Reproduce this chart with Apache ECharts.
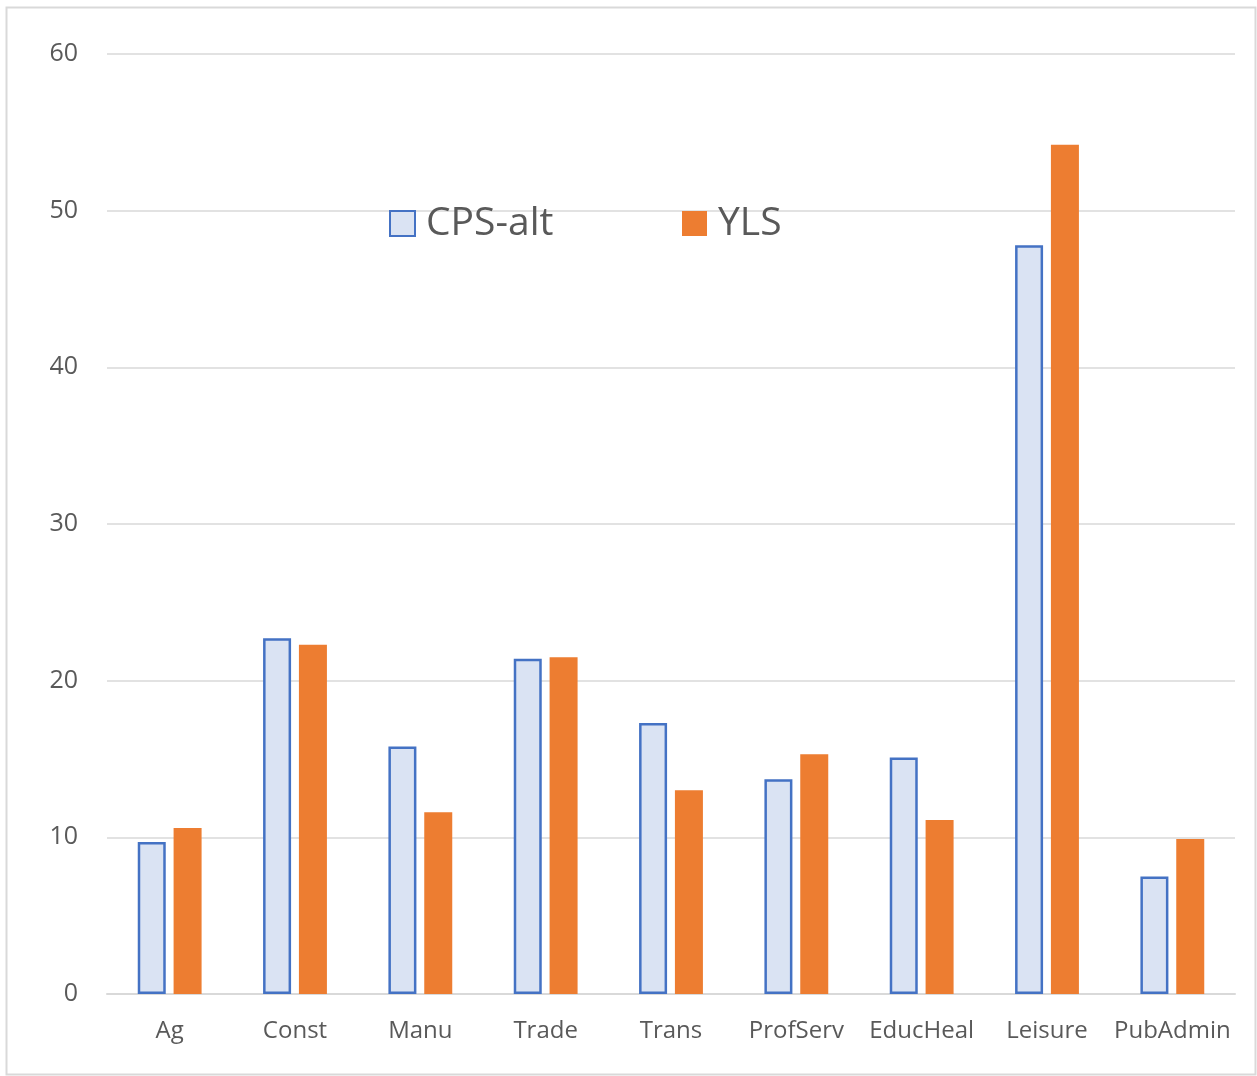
<!DOCTYPE html>
<html>
<head>
<meta charset="utf-8">
<script src="https://cdn.jsdelivr.net/npm/echarts@6/dist/echarts.min.js"></script>
<style>
  html, body { margin: 0; padding: 0; background: #ffffff; }
  #chart { width: 1257px; height: 1076px; }
</style>
</head>
<body>
<div id="chart"></div>
<script>
// Industry categories along the x axis
const categories = ['Ag', 'Const', 'Manu', 'Trade', 'Trans', 'ProfServ', 'EducHeal', 'Leisure', 'PubAdmin'];
// Series values
const cpsAlt = [9.7, 22.7, 15.8, 21.4, 17.3, 13.7, 15.1, 47.8, 7.5];
const yls = [10.6, 22.3, 11.6, 21.5, 13.0, 15.3, 11.1, 54.2, 9.9];
// Value axis ticks
const yTicks = [0, 10, 20, 30, 40, 50, 60];

const FONT = '"Open Sans", "Noto Sans", sans-serif';
const chart = echarts.init(document.getElementById('chart'), null, { renderer: 'canvas' });

const legendText = { fontSize: 39, lineHeight: 25, color: '#595959', fontFamily: FONT, padding: [0, 0, 0, 6] };

chart.setOption({
  animation: false,
  backgroundColor: '#ffffff',
  textStyle: { fontFamily: FONT },
  graphic: [{
    type: 'rect',
    shape: { x: 6.5, y: 7.5, width: 1249, height: 1067 },
    style: { fill: 'none', stroke: '#d9d9d9', lineWidth: 2 },
    silent: true,
    z: -1
  }],
  legend: [
    {
      data: ['CPS-alt'],
      left: 389, top: 204, padding: 0,
      icon: 'rect',
      itemWidth: 25, itemHeight: 25,
      textStyle: legendText
    },
    {
      data: ['YLS'],
      left: 682, top: 204, padding: 0,
      icon: 'rect',
      itemWidth: 25, itemHeight: 25,
      textStyle: legendText
    }
  ],
  grid: { left: 107, right: 22, top: 54, bottom: 82, containLabel: false },
  xAxis: {
    type: 'category',
    data: categories,
    axisLine: { show: true, lineStyle: { color: '#d9d9d9', width: 2 } },
    axisTick: { show: false },
    axisLabel: { interval: 0, fontSize: 24, color: '#595959', margin: 25, fontFamily: FONT }
  },
  yAxis: {
    type: 'value',
    min: yTicks[0],
    max: yTicks[yTicks.length - 1],
    interval: yTicks[1] - yTicks[0],
    axisLine: { show: false },
    axisTick: { show: false },
    splitLine: { lineStyle: { color: '#d9d9d9', width: 1.5 } },
    axisLabel: { fontSize: 25, color: '#595959', margin: 29, fontFamily: FONT }
  },
  series: [
    {
      name: 'CPS-alt',
      type: 'bar',
      data: cpsAlt,
      barWidth: 28,
      barGap: '28%',
      itemStyle: { color: '#dae3f3', borderColor: '#4472c4', borderWidth: 2.5 }
    },
    {
      name: 'YLS',
      type: 'bar',
      data: yls,
      barWidth: 28,
      itemStyle: { color: '#ed7d31' }
    }
  ]
});
</script>
</body>
</html>
